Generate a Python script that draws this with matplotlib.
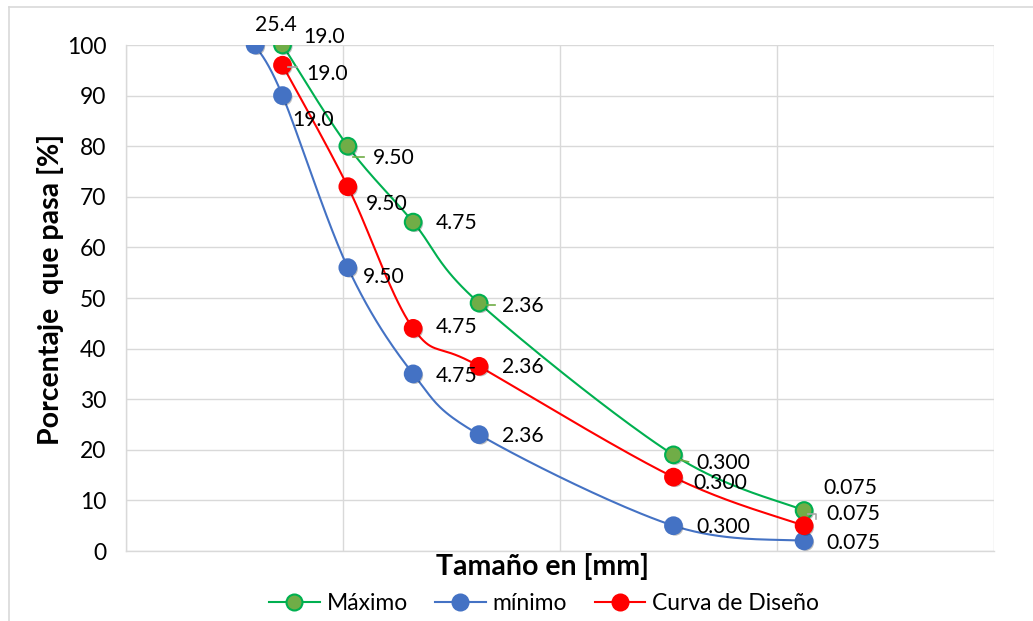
import numpy as np
import matplotlib
matplotlib.use("Agg")
import matplotlib.pyplot as plt
import matplotlib.patheffects as pe
from matplotlib.lines import Line2D

plt.rcParams['font.family'] = ['Lato', 'DejaVu Sans']

# Sieve sizes (mm) and percent passing for each gradation curve
sizes_max = [19.0, 9.50, 4.75, 2.36, 0.300, 0.075]
pass_max = [100, 80, 65, 49, 19, 8]

sizes_min = [25.4, 19.0, 9.50, 4.75, 2.36, 0.300, 0.075]
pass_min = [100, 90, 56, 35, 23, 5, 2]

sizes_des = [19.0, 9.50, 4.75, 2.36, 0.300, 0.075]
pass_des = [96, 72, 44, 36.5, 14.6, 5]

labels_max = ["19.0", "9.50", "4.75", "2.36", "0.300", "0.075"]
labels_min = ["25.4", "19.0", "9.50", "4.75", "2.36", "0.300", "0.075"]
labels_des = ["19.0", "9.50", "4.75", "2.36", "0.300", "0.075"]

y_ticks = list(range(0, 101, 10))

GREEN_LINE = "#00B050"
GREEN_FILL = "#70AD47"
BLUE = "#4472C4"
RED = "#FF0000"
GRID = "#D9D9D9"

W, H = 1033, 621
fig = plt.figure(figsize=(W / 100, H / 100), dpi=100)
fig.patch.set_facecolor("white")

# chart-area border (top and left edges visible)
fig.add_artist(Line2D([9 / W, 1.0], [1 - 7 / H, 1 - 7 / H], transform=fig.transFigure,
                      color=GRID, lw=1.2))
fig.add_artist(Line2D([9 / W, 9 / W], [0.0, 1 - 7 / H], transform=fig.transFigure,
                      color=GRID, lw=1.2))

ax = fig.add_axes([126 / W, 1 - 551 / H, (994 - 126) / W, (551 - 45) / H])
ax.set_xscale("log")
ax.set_xlim(100, 0.01)
ax.set_ylim(0, 100)
ax.set_yticks(y_ticks)
ax.set_xticks([100, 10, 1, 0.1, 0.01])
ax.xaxis.set_minor_locator(matplotlib.ticker.NullLocator())
ax.set_xticklabels([])
ax.tick_params(axis="both", length=0)
ax.tick_params(axis="y", labelsize=16.5, pad=14)
ax.grid(True, color=GRID, lw=1.0)
ax.set_axisbelow(True)
for s in ["top", "right"]:
    ax.spines[s].set_visible(False)
for s in ["left", "bottom"]:
    ax.spines[s].set_color(GRID)
    ax.spines[s].set_linewidth(1.0)

ax.set_xlabel("Tamaño en [mm]", fontsize=20.5, fontweight="bold")
ax.xaxis.set_label_coords((542 - 126) / 868, (551 - 553) / 506)
ax.set_ylabel("Porcentaje  que pasa [%]", fontsize=20.5, fontweight="bold")
ax.yaxis.set_label_coords((64 - 126) / 868, (551 - 289) / 506)


def smooth(xs, ys, n=40):
    """Bezier smoothing (Catmull-Rom style) computed in display space."""
    pts = ax.transData.transform(np.column_stack([xs, ys]))
    P = np.vstack([pts[0], pts, pts[-1]])
    out = []
    t = np.linspace(0, 1, n)[:, None]
    for i in range(1, len(P) - 2):
        p0, p1, p2, p3 = P[i - 1], P[i], P[i + 1], P[i + 2]
        c1 = p1 + (p2 - p0) / 6.0
        c2 = p2 - (p3 - p1) / 6.0
        seg = ((1 - t) ** 3) * p1 + 3 * ((1 - t) ** 2) * t * c1 + 3 * (1 - t) * t ** 2 * c2 + t ** 3 * p2
        out.append(seg if i == 1 else seg[1:])
    curve = np.vstack(out)
    data = ax.transData.inverted().transform(curve)
    return data[:, 0], data[:, 1]


shadow = [pe.SimplePatchShadow(offset=(1.2, -1.2), shadow_rgbFace="black", alpha=0.25), pe.Normal()]

series = [
    (sizes_max, pass_max, GREEN_LINE, GREEN_FILL, "Máximo"),
    (sizes_min, pass_min, BLUE, BLUE, "mínimo"),
    (sizes_des, pass_des, RED, RED, "Curva de Diseño"),
]

handles = []
for xs, ys, lc, fc, name in series:
    sx, sy = smooth(xs, ys)
    ax.plot(sx, sy, color=lc, lw=1.5, zorder=3, solid_capstyle="round")
    ax.plot(xs, ys, "o", ms=12, mfc=fc, mec=lc, mew=1.5, zorder=4, path_effects=shadow)
    handles.append(Line2D([0], [0], color=lc, lw=1.5, marker="o", ms=11.5,
                          mfc=fc, mec=lc, mew=1.5))

# data-label offsets in pixels (dx, dy), text anchored at its left-centre
off_max = [(21, 8), (25, -12), (23, -1), (23, -3), (23, -8), (19, 23)]
off_min = [(0, 20), (10, -24), (15, -9), (23, -2), (23, -1), (23, -1), (22, -2)]
off_des = [(24, -9), (18, -17), (23, 1), (23, -1), (20, -6), (22, 12)]

for xs, ys, labs, offs in [(sizes_max, pass_max, labels_max, off_max),
                           (sizes_min, pass_min, labels_min, off_min),
                           (sizes_des, pass_des, labels_des, off_des)]:
    for x, y, lab, (dx, dy) in zip(xs, ys, labs, offs):
        ax.annotate(lab, (x, y), xytext=(dx, dy), textcoords="offset pixels",
                    ha="left", va="center", fontsize=15.2, color="black", zorder=6,
                    annotation_clip=False)

# short leader lines next to some labels
leaders = [
    (sizes_max[0], pass_max[0], [(-1, 10), (14, 10)], GREEN_FILL),
    (sizes_max[1], pass_max[1], [(5, -11), (16, -11)], GREEN_FILL),
    (sizes_max[3], pass_max[3], [(8, -2), (16, -2)], GREEN_FILL),
    (sizes_max[4], pass_max[4], [(7, -5), (15, -7)], GREEN_FILL),
    (sizes_max[5], pass_max[5], [(4, -3), (12, -3), (12, -8)], "#A6A6A6"),
    (sizes_des[0], pass_des[0], [(5, -2), (14, -2)], "#A6A6A6"),
]
for x, y, pts, c in leaders:
    base = ax.transData.transform((x, y))
    px = [base[0] + p[0] for p in pts]
    py = [base[1] + p[1] for p in pts]
    ax.add_line(Line2D(px, py, transform=None, color=c, lw=1.2, zorder=5))

fig.legend(handles, [s[4] for s in series], loc="center", bbox_to_anchor=(544 / W, 1 - 604 / H),
           ncol=3, frameon=False, fontsize=16.5, handlelength=2.2, handletextpad=0.3,
           columnspacing=1.2, borderpad=0.2)

fig.savefig("out.png", dpi=100)
